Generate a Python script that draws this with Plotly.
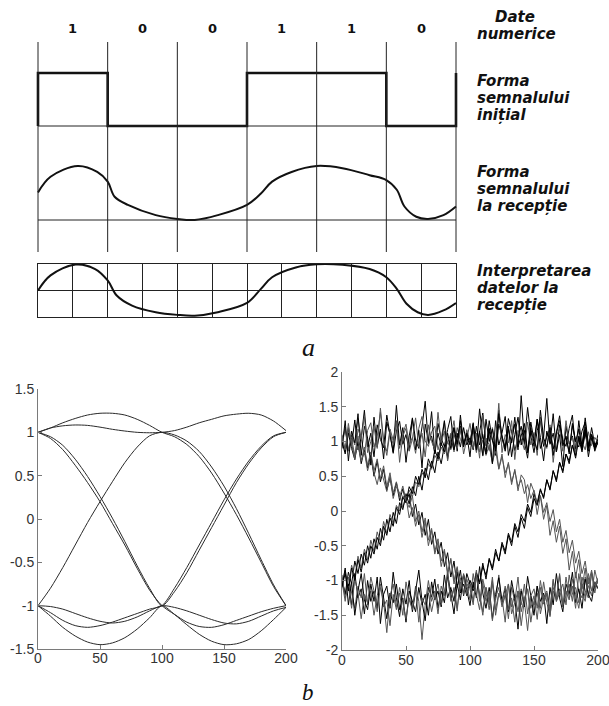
import numpy as np
import plotly.graph_objects as go

W, H = 609, 706

# ---------------- (a) schematic data ----------------
bits = [1, 0, 0, 1, 1, 0]
bit_labels = ["1", "0", "0", "1", "1", "0"]
prev_bit, next_bit = 0, 1

recv_t = [0.0, 0.18, 0.57, 0.85, 1.0, 1.1, 1.29, 1.69, 2.0, 2.25, 2.58, 3.0, 3.2, 3.36,
          3.64, 4.0, 4.37, 4.76, 5.0, 5.15, 5.26, 5.43, 5.6, 5.82, 6.0]
recv_v = [0.51, 0.80, 1.0, 0.89, 0.71, 0.43, 0.28, 0.09, 0.02, 0.0, 0.09, 0.28, 0.49, 0.71,
          0.89, 1.0, 0.96, 0.83, 0.74, 0.56, 0.25, 0.06, 0.02, 0.09, 0.25]

interp_t = [0.0, 0.18, 0.54, 0.82, 1.0, 1.13, 1.35, 1.69, 2.0, 2.25, 2.58, 3.0, 3.2, 3.36,
            3.7, 4.0, 4.37, 4.76, 5.0, 5.15, 5.29, 5.45, 5.6, 5.82, 6.0]
interp_v = [0.0, 0.57, 0.98, 0.81, 0.38, -0.19, -0.57, -0.82, -0.92, -0.95, -0.82, -0.47, 0.06, 0.5,
            0.87, 0.99, 0.97, 0.81, 0.5, 0.06, -0.5, -0.82, -0.92, -0.75, -0.47]

right_labels = [("Date", 17), ("numerice", 34),
                ("Forma", 81), ("semnalului", 98), ("inițial", 115),
                ("Forma", 172), ("semnalului", 189), ("la recepție", 206),
                ("Interpretarea", 271), ("datelor la", 288), ("recepție", 305)]

# ---------------- (b) left: clean eye diagram ----------------
eye_x = [0, 10, 20, 30, 40, 50, 60, 70, 80, 90, 100, 110, 120, 130, 140, 150, 160, 170, 180, 190, 200]
eye_A = [1.0, 1.05, 1.11, 1.16, 1.2, 1.22, 1.22, 1.2, 1.15, 1.08, 1.0,
         0.95, 0.86, 0.72, 0.53, 0.3, 0.05, -0.22, -0.5, -0.78, -1.0]
eye_B = [1.0, 1.05, 1.075, 1.085, 1.08, 1.06, 1.035, 1.015, 1.0, 0.995, 1.0,
         1.02, 1.06, 1.11, 1.15, 1.19, 1.21, 1.22, 1.2, 1.13, 1.02]
eye_C = [1.0, 0.93, 0.8, 0.62, 0.42, 0.2, -0.05, -0.3, -0.57, -0.82, -1.0,
         -1.1, -1.19, -1.24, -1.25, -1.22, -1.17, -1.12, -1.07, -1.03, -1.0]
eye_D = [1.0, 0.95, 0.85, 0.69, 0.49, 0.26, 0.01, -0.26, -0.54, -0.8, -1.0,
         -0.84, -0.62, -0.36, -0.1, 0.16, 0.42, 0.64, 0.82, 0.95, 1.0]
eye_E = [-1.0, -0.8, -0.56, -0.3, -0.04, 0.2, 0.43, 0.65, 0.83, 0.96, 1.0,
         0.97, 0.9, 0.78, 0.6, 0.38, 0.12, -0.17, -0.47, -0.76, -1.0]
eye_F = [-1.0, -1.08, -1.17, -1.23, -1.25, -1.23, -1.19, -1.14, -1.09, -1.04, -1.0,
         -0.8, -0.56, -0.3, -0.04, 0.22, 0.46, 0.67, 0.84, 0.96, 1.0]
eye_G = [-1.0, -1.12, -1.25, -1.35, -1.42, -1.45, -1.43, -1.37, -1.27, -1.14, -1.0,
         -1.1, -1.22, -1.33, -1.41, -1.45, -1.44, -1.39, -1.29, -1.16, -1.02]
eye_H = [-1.0, -1.01, -1.04, -1.09, -1.14, -1.18, -1.2, -1.18, -1.13, -1.06, -1.0,
         -1.02, -1.06, -1.11, -1.16, -1.2, -1.21, -1.18, -1.12, -1.06, -1.02]
eye_traces = [eye_A, eye_B, eye_C, eye_D, eye_E, eye_F, eye_G, eye_H]

# ---------------- (b) right: noisy eye diagram ----------------
noisy_x = np.arange(0, 200.01, 2.5)
noisy_1 = [1.02, 0.85, 1.18, 0.94, 1.31, 0.88, 1.05, 1.45, 0.92, 1.12,
           0.78, 1.24, 1.03, 0.91, 1.38, 1.07, 0.83, 1.15, 1.29, 0.96,
           1.1, 0.87, 1.34, 1.02, 0.9, 1.21, 1.58, 0.97, 1.08, 0.82,
           1.26, 1.04, 0.93, 1.17, 1.36, 0.89, 1.06, 1.22, 0.95, 1.13,
           0.99, 1.27, 0.86, 1.11, 1.41, 0.94, 1.19, 1.02, 0.8, 1.25,
           1.07, 0.91, 1.33, 1.14, 0.87, 1.03, 1.22, 0.96, 1.49, 1.08,
           0.84, 1.16, 1.3, 0.93, 1.05, 1.2, 0.89, 1.12, 1.37, 0.98,
           1.06, 0.85, 1.23, 1.01, 0.92, 1.15, 1.28, 0.94, 1.09, 0.9, 1.04]
noisy_2 = [0.98, 1.21, 0.87, 1.09, 0.95, 1.33, 1.04, 0.81, 1.16, 1.27,
           0.92, 1.07, 1.42, 0.99, 0.86, 1.18, 1.02, 1.3, 0.9, 1.11,
           1.25, 0.95, 1.06, 0.83, 1.19, 1.36, 1.01, 0.93, 1.14, 1.22,
           0.88, 1.05, 1.29, 0.97, 1.12, 0.85, 1.2, 1.03, 0.94, 1.17, 1.0,
           1.15, 0.84, 1.1, 0.79, 1.05, 0.95, 0.68, 0.99, 0.61, 0.82,
           0.48, 0.7, 0.38, 0.6, 0.29, 0.52, 0.45, 0.12, 0.4, 0.28,
           -0.05, 0.22, -0.12, 0.08, -0.35, -0.14, -0.45, -0.22, -0.61, -0.4,
           -0.85, -0.58, -0.96, -0.7, -1.12, -0.82, -1.25, -0.9, -1.18, -0.96]
noisy_3 = [1.0, 0.82, 1.12, 0.9, 0.74, 1.0, 0.68, 0.88, 0.62, 0.81,
           0.5, 0.72, 0.42, 0.6, 0.3, 0.48, 0.22, 0.41, 0.15, 0.32,
           0.12, 0.25, -0.08, 0.1, -0.2, -0.02, -0.35, -0.12, -0.48, -0.3,
           -0.62, -0.45, -0.8, -0.6, -0.95, -0.72, -1.1, -0.85, -1.22, -0.9, -1.05,
           -1.15, -0.88, -1.05, -0.75, -0.98, -0.68, -0.82, -0.55, -0.72, -0.45,
           -0.58, -0.32, -0.45, -0.18, -0.3, -0.05, -0.15, 0.1, -0.02, 0.25,
           0.12, 0.32, 0.18, 0.45, 0.3, 0.58, 0.42, 0.7, 0.55, 0.82,
           0.68, 0.95, 0.76, 1.05, 0.85, 1.12, 0.9, 1.2, 0.95, 1.02]
noisy_4 = [0.95, 1.18, 0.86, 1.05, 0.79, 0.94, 0.72, 0.85, 0.58, 0.76,
           0.55, 0.38, 0.62, 0.45, 0.28, 0.5, 0.18, 0.35, 0.26, 0.05,
           0.2, -0.1, 0.05, -0.22, -0.05, -0.38, -0.15, -0.5, -0.28, -0.62,
           -0.45, -0.8, -0.58, -0.92, -0.7, -1.05, -0.82, -1.15, -0.9, -1.08, -1.0,
           -1.12, -0.85, -1.3, -0.98, -1.18, -1.42, -1.05, -1.28, -0.92, -1.35,
           -1.2, -1.55, -1.1, -1.3, -0.95, -1.45, -1.25, -1.12, -1.6, -1.3,
           -1.18, -1.4, -1.02, -1.32, -1.5, -1.15, -1.28, -0.9, -1.38, -1.2,
           -1.05, -1.3, -0.88, -1.15, -1.25, -0.95, -1.1, -1.22, -0.85, -1.05]
noisy_5 = [-1.0, -1.2, -0.88, -1.05, -0.72, -0.9, -0.62, -0.78, -0.5, -0.68,
           -0.4, -0.55, -0.25, -0.42, -0.12, -0.3, -0.02, -0.18, 0.12, 0.02,
           0.25, 0.1, 0.35, 0.22, 0.5, 0.3, 0.62, 0.45, 0.72, 0.55,
           0.85, 0.68, 0.95, 0.78, 1.05, 0.88, 1.12, 0.92, 1.2, 0.95, 1.05,
           0.88, 1.22, 0.95, 1.1, 0.82, 1.3, 1.02, 0.9, 1.45, 1.05,
           0.86, 1.18, 0.98, 1.35, 0.92, 1.08, 1.26, 0.84, 1.14, 1.0,
           1.32, 0.9, 1.06, 1.62, 0.96, 1.12, 0.85, 1.24, 1.03, 0.93,
           1.19, 1.38, 0.89, 1.07, 0.97, 1.21, 0.86, 1.1, 0.94, 1.02]
noisy_6 = [-1.05, -0.85, -1.1, -0.78, -0.95, -0.65, -0.82, -0.55, -0.7, -0.42,
           -0.58, -0.3, -0.45, -0.15, -0.32, -0.05, -0.18, 0.08, 0.0, 0.22,
           0.15, 0.3, 0.2, 0.42, 0.35, 0.55, 0.48, 0.68, 0.6, 0.8,
           0.72, 0.92, 0.82, 1.0, 0.88, 1.1, 0.95, 1.15, 0.98, 1.08, 1.0,
           0.9, 1.12, 0.85, 1.02, 0.8, 0.95, 0.7, 0.88, 0.6, 0.78,
           0.55, 0.68, 0.42, 0.58, 0.35, 0.45, 0.25, 0.38, 0.18, 0.3,
           0.1, 0.22, -0.02, 0.12, -0.15, 0.02, -0.3, -0.12, -0.45, -0.28,
           -0.6, -0.42, -0.75, -0.58, -0.9, -0.72, -1.05, -0.85, -1.12, -0.98]
noisy_7 = [-0.98, -1.2, -1.05, -1.35, -0.9, -1.25, -1.12, -1.48, -1.0, -1.3,
           -1.15, -1.4, -0.95, -1.22, -1.55, -1.18, -1.32, -1.05, -1.42, -1.25,
           -1.6, -1.15, -1.3, -1.45, -1.1, -1.35, -1.2, -1.5, -1.02, -1.28,
           -1.15, -1.38, -0.92, -1.25, -1.1, -1.3, -0.88, -1.18, -1.05, -1.22, -1.0,
           -1.1, -0.9, -1.02, -0.8, -0.92, -0.7, -0.85, -0.6, -0.72, -0.48,
           -0.62, -0.35, -0.5, -0.22, -0.38, -0.1, -0.25, 0.05, -0.08, 0.18,
           0.08, 0.3, 0.2, 0.45, 0.32, 0.58, 0.45, 0.7, 0.58, 0.82,
           0.72, 0.95, 0.8, 1.08, 0.88, 1.15, 0.92, 1.05, 0.9, 0.98]
noisy_8 = [-1.02, -1.3, -0.95, -1.18, -1.4, -1.08, -1.25, -0.9, -1.35, -1.15,
           -1.5, -1.22, -1.05, -1.38, -1.28, -1.65, -1.2, -1.42, -1.1, -1.32,
           -1.55, -1.25, -1.4, -1.08, -1.3, -1.85, -1.35, -1.18, -1.45, -1.22,
           -1.05, -1.35, -1.15, -0.95, -1.28, -1.1, -1.4, -1.02, -1.2, -0.98,
           -1.12, -1.35, -0.9, -1.22, -1.5, -1.1, -1.3, -0.95, -1.42, -1.18,
           -1.25, -1.6, -1.05, -1.38, -1.2, -1.45, -1.12, -1.3, -1.72, -1.22,
           -1.35, -1.08, -1.48, -1.25, -1.15, -1.4, -0.98, -1.3, -1.18, -1.05,
           -1.35, -0.92, -1.2, -1.1, -1.32, -0.95, -1.15, -1.25, -0.88, -1.1, -1.0]
noisy_9 = [0.9, 1.3, 0.72, 1.15, 0.98, 1.4, 0.8, 1.22, 1.05, 0.66,
           1.35, 0.92, 1.18, 0.75, 1.28, 1.1, 0.85, 1.52, 0.95, 1.2,
           0.7, 1.08, 1.33, 0.88, 1.16, 0.62, 1.25, 1.0, 1.43, 0.83,
           1.12, 0.94, 1.3, 0.74, 1.08, 1.2, 0.86, 1.38, 0.97, 1.1,
           0.78, 1.24, 0.9, 1.47, 1.05, 0.82, 1.18, 0.68, 1.3, 0.95,
           1.12, 1.36, 0.8, 1.02, 1.25, 0.88, 1.66, 1.0, 0.76, 1.2,
           0.93, 1.32, 1.06, 0.72, 1.15, 0.98, 1.4, 0.85, 1.1, 0.64,
           1.22, 0.96, 1.08, 0.8, 1.3, 0.92, 1.17, 0.78, 1.05, 0.9, 1.1]
noisy_10 = [1.1, 0.88, 1.26, 0.96, 0.74, 1.18, 1.05, 1.36, 0.84, 1.0,
            1.22, 0.9, 1.48, 1.02, 0.8, 1.14, 0.95, 1.28, 0.7, 1.08,
            1.19, 0.86, 1.04, 1.34, 0.92, 1.12, 0.78, 1.24, 1.0, 0.88,
            1.42, 0.98, 1.15, 0.72, 1.06, 1.3, 0.9, 1.2, 0.82, 1.04,
            1.26, 0.94, 1.12, 0.76, 1.38, 1.0, 0.87, 1.2, 0.96, 1.55,
            0.84, 1.1, 0.98, 1.3, 0.74, 1.16, 1.04, 0.88, 1.28, 0.95,
            1.13, 0.8, 1.35, 1.02, 0.9, 1.24, 0.7, 1.09, 1.18, 0.86,
            1.3, 0.97, 1.06, 0.83, 1.2, 1.0, 0.88, 1.14, 0.94, 1.06, 0.98]
noisy_11 = [-1.1, -0.82, -1.35, -1.02, -1.5, -1.15, -0.9, -1.28, -1.42, -1.05,
            -1.3, -0.95, -1.62, -1.2, -1.08, -1.4, -0.88, -1.25, -1.52, -1.12,
            -1.34, -1.0, -1.45, -1.18, -0.85, -1.3, -1.58, -1.1, -1.24, -0.98,
            -1.4, -1.15, -1.32, -0.9, -1.2, -1.48, -1.05, -1.28, -0.92, -1.16,
            -1.36, -1.02, -1.25, -0.8, -1.18, -1.4, -1.1, -1.55, -1.2, -0.96,
            -1.3, -1.12, -1.45, -1.0, -1.26, -1.7, -1.15, -1.38, -0.94, -1.22,
            -1.5, -1.08, -1.3, -1.18, -1.62, -1.1, -1.35, -0.9, -1.25, -1.45,
            -1.05, -1.2, -0.88, -1.32, -1.12, -1.4, -0.98, -1.2, -1.3, -1.02, -1.12]
noisy_12 = [-0.92, -1.25, -1.08, -1.4, -0.98, -1.18, -1.55, -1.2, -1.32, -0.95,
            -1.15, -1.45, -1.1, -1.3, -1.75, -1.22, -1.05, -1.38, -1.18, -1.5,
            -1.02, -1.28, -1.42, -1.12, -1.6, -1.25, -1.35, -1.0, -1.3, -1.15,
            -1.48, -1.08, -1.22, -0.86, -1.3, -1.12, -1.44, -0.96, -1.18, -1.06,
            -1.28, -0.9, -1.2, -1.42, -1.04, -1.3, -1.15, -1.58, -1.25, -1.1,
            -1.38, -1.2, -1.05, -1.48, -1.3, -1.15, -1.65, -1.28, -1.12, -1.4,
            -1.22, -1.56, -1.1, -1.34, -1.2, -1.45, -1.0, -1.3, -1.12, -1.38,
            -0.95, -1.25, -1.08, -1.4, -0.9, -1.18, -1.3, -0.96, -1.15, -1.05, -0.98]
noisy_13 = [-1.08, -0.9, -1.15, -0.82, -1.0, -0.7, -0.88, -0.6, -0.75, -0.5,
            -0.62, -0.38, -0.5, -0.22, -0.35, -0.1, -0.22, 0.05, -0.05, 0.2,
            0.12, 0.35, 0.25, 0.5, 0.38, 0.6, 0.48, 0.75, 0.62, 0.88,
            0.75, 0.98, 0.85, 1.12, 0.9, 1.2, 0.96, 1.3, 0.92, 1.12, 0.95,
            1.25, 0.88, 1.15, 0.8, 1.32, 1.0, 1.18, 0.86, 1.4, 1.06,
            0.9, 1.22, 0.78, 1.1, 1.35, 0.95, 1.16, 0.84, 1.28, 1.02,
            0.88, 1.45, 1.05, 0.92, 1.2, 0.8, 1.12, 1.3, 0.94, 1.08,
            0.82, 1.26, 1.0, 1.18, 0.9, 1.34, 0.96, 1.1, 0.86, 1.0]
noisy_14 = [1.05, 0.88, 1.2, 0.95, 0.8, 1.08, 0.72, 0.92, 0.66, 0.85,
            0.58, 0.75, 0.46, 0.65, 0.35, 0.55, 0.26, 0.42, 0.2, 0.36,
            0.15, 0.05, 0.22, -0.15, 0.0, -0.3, -0.1, -0.42, -0.25, -0.58,
            -0.4, -0.72, -0.55, -0.88, -0.68, -1.0, -0.8, -1.12, -0.92, -1.2, -1.05,
            -1.3, -0.95, -1.22, -1.45, -1.1, -1.35, -1.0, -1.5, -1.2, -1.3,
            -1.08, -1.42, -1.25, -1.6, -1.15, -1.35, -1.05, -1.48, -1.22, -1.12,
            -1.4, -1.0, -1.3, -1.18, -1.52, -1.1, -1.25, -0.92, -1.35, -1.15,
            -1.28, -0.98, -1.2, -1.4, -1.05, -1.25, -0.9, -1.15, -1.02, -1.1]
noisy_traces = [noisy_1, noisy_2, noisy_3, noisy_4, noisy_5, noisy_6, noisy_7,
                noisy_8, noisy_9, noisy_10, noisy_11, noisy_12, noisy_13, noisy_14]

left_yticks = [-1.5, -1, -0.5, 0, 0.5, 1, 1.5]
left_ytext = ["-1.5", "-1", "-0.5", "0", "0.5", "1", "1.5"]
right_yticks = [-2, -1.5, -1, -0.5, 0, 0.5, 1, 1.5, 2]
right_ytext = ["-2", "-1.5", "-1", "-0.5", "0", "0.5", "1", "1.5", "2"]
xticks = [0, 50, 100, 150, 200]
xtext = ["0", "50", "100", "150", "200"]


def px_x(p):
    return p / W


def px_y(p):
    return 1 - p / H


fig = go.Figure()

# square wave (initial signal)
sq_x = [0] + list(range(len(bits))) + [len(bits), len(bits)]
sq_y = [prev_bit] + bits + [bits[-1], next_bit]
fig.add_trace(go.Scatter(x=sq_x, y=sq_y, mode="lines", line=dict(color="#111", width=2.6, shape="hv"),
                         xaxis="x", yaxis="y", showlegend=False, hoverinfo="skip"))
# received signal
fig.add_trace(go.Scatter(x=recv_t, y=recv_v, mode="lines", line=dict(color="#111", width=2, shape="spline", smoothing=1),
                         xaxis="x", yaxis="y2", showlegend=False, hoverinfo="skip"))
# interpretation
fig.add_trace(go.Scatter(x=interp_t, y=interp_v, mode="lines", line=dict(color="#111", width=2, shape="spline", smoothing=1),
                         xaxis="x2", yaxis="y3", showlegend=False, hoverinfo="skip"))

# left eye diagram
for tr in eye_traces:
    fig.add_trace(go.Scatter(x=eye_x, y=tr, mode="lines", line=dict(color="#2a2a2a", width=1, shape="spline", smoothing=0.8),
                             xaxis="x3", yaxis="y4", showlegend=False, hoverinfo="skip"))

# right noisy eye diagram
for i, tr in enumerate(noisy_traces):
    fig.add_trace(go.Scatter(x=noisy_x, y=tr, mode="lines", line=dict(color="#000" if i % 2 == 0 else "#555", width=1),
                             xaxis="x4", yaxis="y5", showlegend=False, hoverinfo="skip"))

nb = len(bits)
bit_per_px = nb / (456 - 38)
shapes = []
for i in range(nb + 1):
    shapes.append(dict(type="line", xref="x", yref="paper", x0=i, x1=i, y0=px_y(252), y1=px_y(42),
                       line=dict(color="#222", width=1)))
shapes.append(dict(type="line", xref="x", yref="y", x0=0, x1=nb, y0=0, y1=0, line=dict(color="#222", width=1)))
shapes.append(dict(type="line", xref="x", yref="y2", x0=0, x1=nb, y0=0, y1=0, line=dict(color="#222", width=1)))

annotations = []
for i, lab in enumerate(bit_labels):
    annotations.append(dict(x=i + 0.5, y=px_y(28), xref="x", yref="paper", text=lab, showarrow=False,
                            xanchor="center", yanchor="middle",
                            font=dict(family="DejaVu Sans", size=13, color="#111", weight="bold")))
for txt, cy in right_labels:
    xx = 493 if txt == "Date" else 475
    annotations.append(dict(x=px_x(xx), y=px_y(cy), xref="paper", yref="paper", text=txt, showarrow=False,
                            xanchor="left", yanchor="middle",
                            font=dict(family="DejaVu Sans", size=15, color="#111", weight="bold", style="italic")))
annotations.append(dict(x=px_x(308), y=px_y(347), xref="paper", yref="paper", text="a", showarrow=False,
                        xanchor="center", yanchor="middle",
                        font=dict(family="Liberation Serif", size=26, color="#111", style="italic")))
annotations.append(dict(x=px_x(308), y=0, xref="paper", yref="paper", text="b", showarrow=False,
                        xanchor="center", yanchor="bottom", borderpad=0,
                        font=dict(family="Liberation Serif", size=23, color="#111", style="italic")))

hidden = dict(visible=False, showgrid=False, zeroline=False, automargin=False)
eye_ax = dict(showline=True, linecolor="#7a7a7a", linewidth=1, mirror=False, ticks="inside", ticklen=4,
              tickcolor="#7a7a7a", showgrid=False, zeroline=False, automargin=False,
              ticklabeloverflow="allow",
              tickfont=dict(family="Liberation Sans", size=14, color="#333"))
box_ax = dict(showgrid=True, gridcolor="#222", gridwidth=1, showline=True, mirror=True, linecolor="#222",
              linewidth=1, showticklabels=False, ticks="", zeroline=False, automargin=False)

fig.update_layout(
    width=W, height=H, autosize=False,
    margin=dict(l=0, r=0, t=0, b=0, pad=0),
    paper_bgcolor="white", plot_bgcolor="white",
    showlegend=False,
    xaxis=dict(hidden, domain=[0, 1], range=[-38 * bit_per_px, (W - 38) * bit_per_px], anchor="y"),
    yaxis=dict(hidden, domain=[px_y(130), px_y(70)], range=[-4 / 53, 1 + 3 / 53], anchor="x"),
    yaxis2=dict(hidden, domain=[px_y(226), px_y(160)], range=[-6 / 54, 1 + 6 / 54], anchor="x"),
    xaxis2=dict(box_ax, domain=[px_x(38), px_x(456)], range=[0, nb], anchor="y3", dtick=0.5, tick0=0),
    yaxis3=dict(box_ax, domain=[px_y(317), px_y(264)], range=[-1, 1], anchor="x2", dtick=1, tick0=0),
    xaxis3=dict(eye_ax, domain=[px_x(38), px_x(286)], range=[0, 200], anchor="y4",
                tickvals=xticks, ticktext=xtext, ticklabelstandoff=-4),
    yaxis4=dict(eye_ax, domain=[px_y(649), px_y(389)], range=[-1.5, 1.5], anchor="x3",
                tickvals=left_yticks, ticktext=left_ytext),
    xaxis4=dict(eye_ax, domain=[px_x(342), px_x(598)], range=[0, 200], anchor="y5",
                tickvals=xticks, ticktext=xtext, ticklabelstandoff=-3),
    yaxis5=dict(eye_ax, domain=[px_y(650), px_y(372)], range=[-2, 2], anchor="x4",
                tickvals=right_yticks, ticktext=right_ytext),
    shapes=shapes,
    annotations=annotations,
)

fig.write_html("out.html", config={"displayModeBar": False, "staticPlot": True},
               post_script="document.body.style.margin='0';document.body.style.overflow='hidden';")
